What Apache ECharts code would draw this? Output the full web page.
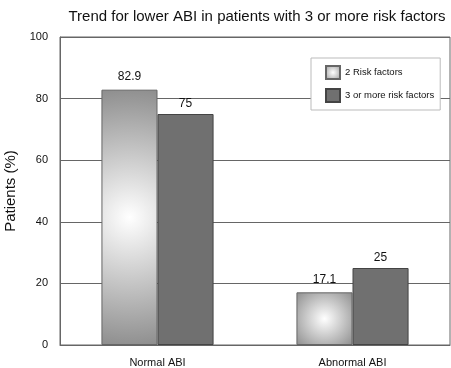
<!DOCTYPE html>
<html><head><meta charset="utf-8">
<script src="https://cdn.jsdelivr.net/npm/echarts@6/dist/echarts.min.js"></script>
<style>html,body{margin:0;padding:0;background:#fff}#c{width:451px;height:368px}</style>
</head><body><div id="c"></div>
<script>
var categories = ['Normal ABI', 'Abnormal ABI'];
var seriesNames = ['2 Risk factors', '3 or more risk factors'];
var twoRisk = [82.9, 17.1];
var threeRisk = [75, 25];
var yTicks = [0, 20, 40, 60, 80, 100];

function radial(r) {
  return new echarts.graphic.RadialGradient(0.5, 0.5, r, [
    {offset: 0, color: '#ffffff'},
    {offset: 1, color: '#8a8a8a'}
  ]);
}
var gradR = [2.4, 0.75];
var chart = echarts.init(document.getElementById('c'), null, {renderer: 'canvas'});
var font = 'Liberation Sans, Arial, sans-serif';
chart.setOption({
  animation: false,
  title: {
    text: 'Trend for lower ABI in patients with 3 or more risk factors',
    left: 252, top: 4, textAlign: 'center',
    textStyle: {fontFamily: font, fontSize: 15, fontWeight: 'normal', color: '#111'}
  },
  legend: {
    orient: 'vertical',
    left: 311, top: 58,
    padding: [7, 6, 7, 14],
    itemGap: 8,
    itemWidth: 14, itemHeight: 13,
    icon: 'rect',
    backgroundColor: '#fff',
    borderColor: '#bbb', borderWidth: 1,
    textStyle: {fontFamily: font, fontSize: 9.5, color: '#111'},
    data: seriesNames,
    z: 10
  },
  grid: {left: 60, right: 1, top: 37, bottom: 23, outerBoundsMode: 'none', show: true, borderColor: '#666', borderWidth: 1, backgroundColor: 'transparent'},
  xAxis: {
    type: 'category', data: categories,
    axisLine: {lineStyle: {color: '#666'}},
    axisTick: {show: false},
    axisLabel: {fontFamily: font, fontSize: 11, color: '#111', margin: 12}
  },
  yAxis: {
    type: 'value', min: yTicks[0], max: yTicks[yTicks.length - 1], interval: 20,
    name: 'Patients (%)', nameLocation: 'middle', nameGap: 42, nameRotate: 90,
    nameTextStyle: {fontFamily: font, fontSize: 15, color: '#111'},
    axisLine: {show: true, lineStyle: {color: '#666'}},
    axisTick: {show: false},
    axisLabel: {fontFamily: font, fontSize: 11, color: '#111', margin: 12},
    splitLine: {lineStyle: {color: '#666', width: 1}}
  },
  series: [
    {
      name: seriesNames[0], type: 'bar', barGap: '0%', barCategoryGap: '42.5%',
      itemStyle: {color: radial(0.8), borderColor: '#666', borderWidth: 1},
      label: {show: true, position: 'top', distance: 7, fontFamily: font, fontSize: 12, color: '#111'},
      data: twoRisk.map(function (v, i) { return {value: v, itemStyle: {color: radial(gradR[i])}}; })
    },
    {
      name: seriesNames[1], type: 'bar',
      itemStyle: {color: '#707070', borderColor: '#444', borderWidth: 1},
      label: {show: true, position: 'top', distance: 4, fontFamily: font, fontSize: 12, color: '#111'},
      data: threeRisk
    }
  ]
});
</script></body></html>
